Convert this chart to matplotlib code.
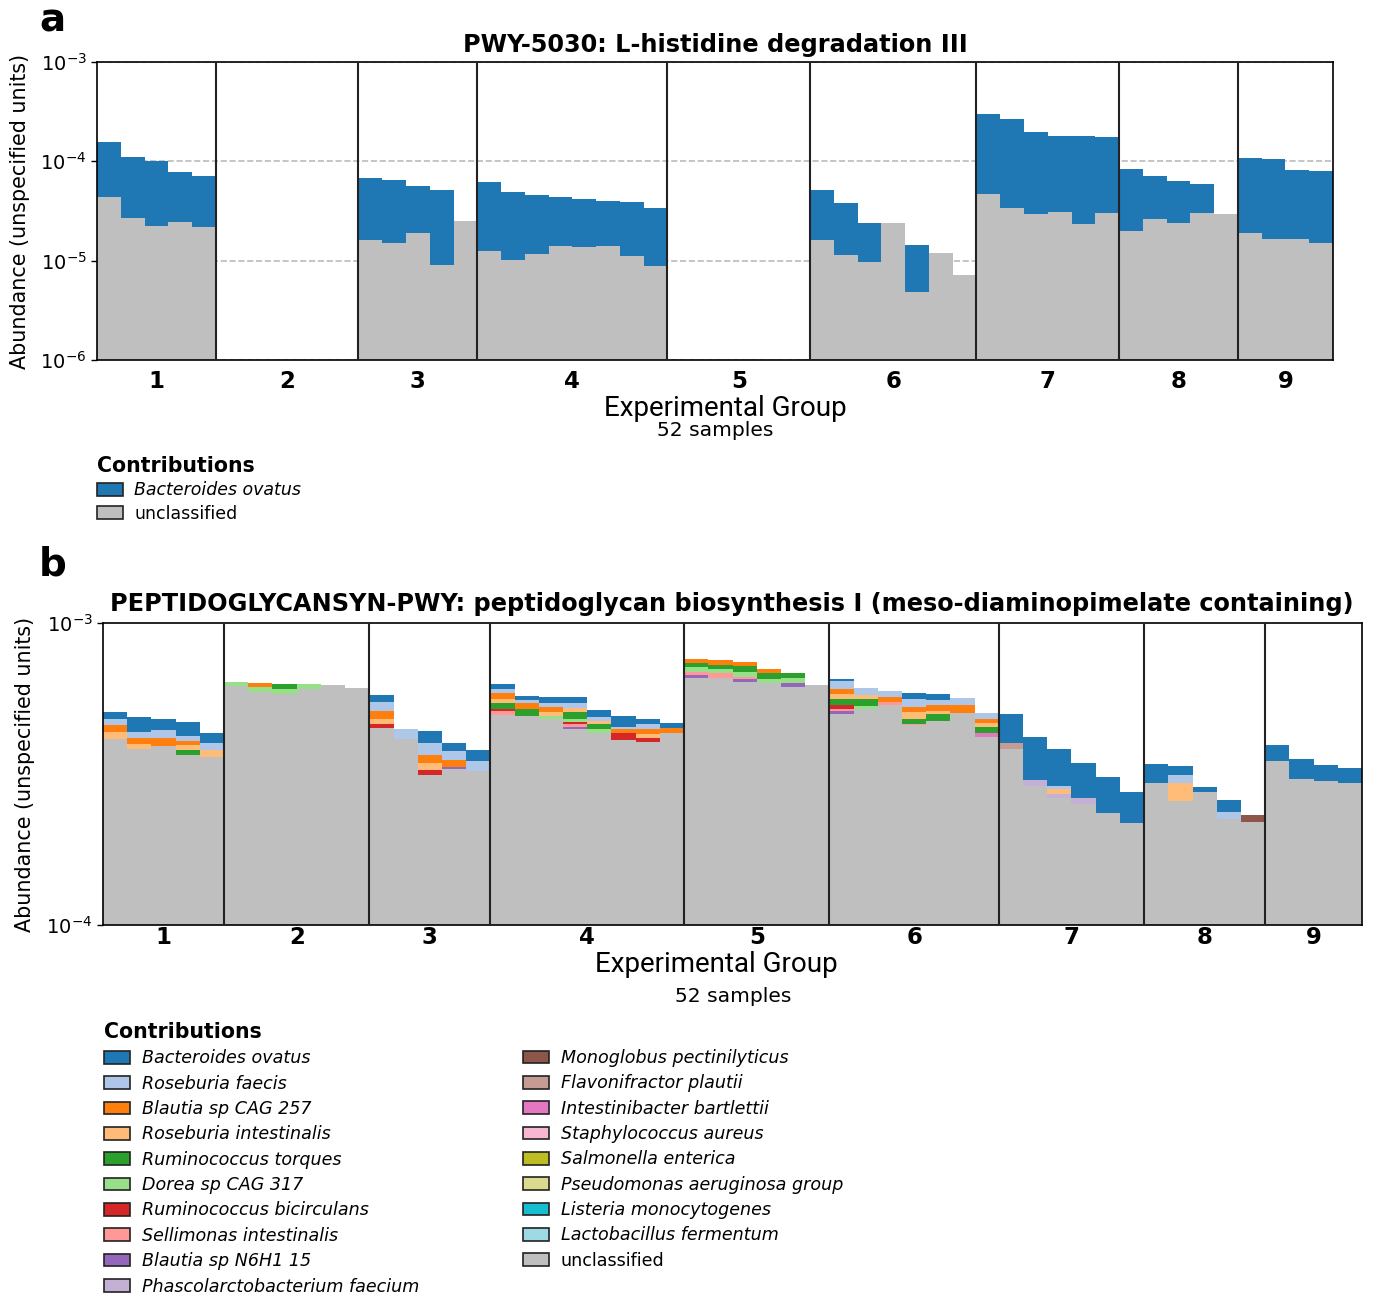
import matplotlib
matplotlib.use('Agg')
import matplotlib.pyplot as plt
from matplotlib.patches import Patch
from matplotlib.ticker import NullLocator

# ---------------------------------------------------------------------------
# Data
# ---------------------------------------------------------------------------
group_labels = ['1', '2', '3', '4', '5', '6', '7', '8', '9']
group_sizes = [5, 6, 5, 8, 6, 7, 6, 5, 4]   # 52 samples

# panel a: PWY-5030, total abundance and unclassified part per sample
title_a = 'PWY-5030: L-histidine degradation III'
total_a = [1.58e-4, 1.115e-4, 1.01e-4, 7.86e-5, 7.10e-5,
           0, 0, 0, 0, 0, 0,
           6.78e-5, 6.52e-5, 5.71e-5, 5.12e-5, 2.51e-5,
           6.13e-5, 4.93e-5, 4.56e-5, 4.42e-5, 4.15e-5, 4.02e-5, 3.93e-5, 3.37e-5,
           0, 0, 0, 0, 0, 0,
           5.16e-5, 3.81e-5, 2.41e-5, 2.37e-5, 1.45e-5, 1.20e-5, 7.16e-6,
           2.97e-4, 2.64e-4, 1.98e-4, 1.79e-4, 1.79e-4, 1.76e-4,
           8.43e-5, 7.05e-5, 6.32e-5, 5.94e-5, 2.92e-5,
           1.08e-4, 1.056e-4, 8.17e-5, 7.98e-5]
unclassified_a = [4.39e-5, 2.67e-5, 2.23e-5, 2.45e-5, 2.16e-5,
                  0, 0, 0, 0, 0, 0,
                  1.63e-5, 1.49e-5, 1.91e-5, 8.98e-6, 2.51e-5,
                  1.24e-5, 1.02e-5, 1.18e-5, 1.39e-5, 1.375e-5, 1.42e-5, 1.12e-5, 8.83e-6,
                  0, 0, 0, 0, 0, 0,
                  1.63e-5, 1.15e-5, 9.62e-6, 2.37e-5, 4.81e-6, 1.20e-5, 7.16e-6,
                  4.74e-5, 3.36e-5, 2.97e-5, 3.07e-5, 2.35e-5, 3.04e-5,
                  2.01e-5, 2.62e-5, 2.39e-5, 3.02e-5, 2.92e-5,
                  1.91e-5, 1.645e-5, 1.67e-5, 1.52e-5]

# panel b: PEPTIDOGLYCANSYN-PWY
title_b = ('PEPTIDOGLYCANSYN-PWY: peptidoglycan biosynthesis I '
           '(meso-diaminopimelate containing)')
species_keys = ['BO', 'RF', 'BC', 'RI', 'RT', 'DO', 'RB', 'SI', 'BN', 'PF',
                'MP', 'FP', 'IB', 'SA', 'SE', 'PA', 'LM', 'LF']
species_names = ['Bacteroides ovatus', 'Roseburia faecis', 'Blautia sp CAG 257',
                 'Roseburia intestinalis', 'Ruminococcus torques', 'Dorea sp CAG 317',
                 'Ruminococcus bicirculans', 'Sellimonas intestinalis',
                 'Blautia sp N6H1 15', 'Phascolarctobacterium faecium',
                 'Monoglobus pectinilyticus', 'Flavonifractor plautii',
                 'Intestinibacter bartlettii', 'Staphylococcus aureus',
                 'Salmonella enterica', 'Pseudomonas aeruginosa group',
                 'Listeria monocytogenes', 'Lactobacillus fermentum']
species_colors = ['#1f77b4', '#aec7e8', '#ff7f0e', '#ffbb78', '#2ca02c', '#98df8a',
                  '#d62728', '#ff9896', '#9467bd', '#c5b0d5', '#8c564b', '#c49c94',
                  '#e377c2', '#f7b6d2', '#bcbd22', '#dbdb8d', '#17becf', '#9edae5']
unclassified_color = '#bfbfbf'

unclassified_b = [4.12e-4, 3.83e-4, 3.92e-4, 3.66e-4, 3.59e-4,
                  6.19e-4, 5.89e-4, 5.80e-4, 6.06e-4, 6.25e-4, 6.08e-4,
                  4.48e-4, 4.12e-4, 3.13e-4, 3.29e-4, 3.24e-4,
                  4.95e-4, 4.93e-4, 4.80e-4, 4.44e-4, 4.31e-4, 4.10e-4, 4.05e-4, 4.31e-4,
                  6.56e-4, 6.59e-4, 6.36e-4, 6.31e-4, 6.16e-4, 6.25e-4,
                  5.01e-4, 5.18e-4, 5.35e-4, 4.58e-4, 4.75e-4, 5.02e-4, 4.20e-4,
                  3.84e-4, 2.89e-4, 2.63e-4, 2.52e-4, 2.34e-4, 2.17e-4,
                  2.96e-4, 2.57e-4, 2.76e-4, 2.25e-4, 2.20e-4,
                  3.50e-4, 3.04e-4, 3.00e-4, 2.95e-4]

# stacked abundance reached by each species above unclassified (bottom -> top)
stack_tops_b = [
    # group 1
    [('RI', 4.36e-4), ('BC', 4.58e-4), ('RF', 4.80e-4), ('BO', 5.06e-4)],
    [('RI', 3.98e-4), ('BC', 4.16e-4), ('RF', 4.34e-4), ('BO', 4.90e-4)],
    [('BC', 4.15e-4), ('RF', 4.42e-4), ('BO', 4.80e-4)],
    [('RT', 3.80e-4), ('RI', 3.94e-4), ('BC', 4.06e-4), ('RF', 4.24e-4), ('BO', 4.69e-4)],
    [('RI', 3.80e-4), ('RF', 4.00e-4), ('BO', 4.32e-4)],
    # group 2
    [('DO', 6.39e-4)],
    [('DO', 6.16e-4), ('BC', 6.31e-4)],
    [('DO', 6.05e-4), ('RT', 6.28e-4)],
    [('DO', 6.30e-4)],
    [],
    [],
    # group 3
    [('RB', 4.64e-4), ('RI', 4.82e-4), ('BC', 5.11e-4), ('RF', 5.46e-4), ('BO', 5.77e-4)],
    [('RF', 4.44e-4)],
    [('RB', 3.26e-4), ('RI', 3.45e-4), ('BC', 3.65e-4), ('RF', 4.00e-4), ('BO', 4.38e-4)],
    [('BN', 3.34e-4), ('BC', 3.52e-4), ('RF', 3.77e-4), ('BO', 4.00e-4)],
    [('RF', 3.49e-4), ('BO', 3.81e-4)],
    # group 4
    [('SI', 5.11e-4), ('RB', 5.20e-4), ('RT', 5.42e-4), ('RI', 5.60e-4), ('BC', 5.87e-4),
     ('RF', 6.05e-4), ('BO', 6.27e-4)],
    [('RT', 5.19e-4), ('BC', 5.42e-4), ('RF', 5.56e-4), ('BO', 5.74e-4)],
    [('DO', 4.93e-4), ('RI', 5.09e-4), ('BC', 5.28e-4), ('RF', 5.45e-4), ('BO', 5.70e-4)],
    [('BN', 4.54e-4), ('SI', 4.62e-4), ('RB', 4.70e-4), ('DO', 4.82e-4), ('RT', 5.07e-4),
     ('RI', 5.25e-4), ('RF', 5.42e-4), ('BO', 5.67e-4)],
    [('DO', 4.46e-4), ('RT', 4.62e-4), ('RI', 4.75e-4), ('RF', 4.90e-4), ('BO', 5.15e-4)],
    [('RB', 4.31e-4), ('BC', 4.45e-4), ('RF', 4.54e-4), ('BO', 4.92e-4)],
    [('RB', 4.15e-4), ('RI', 4.29e-4), ('BC', 4.45e-4), ('RF', 4.63e-4), ('BO', 4.81e-4)],
    [('BC', 4.50e-4), ('BO', 4.65e-4)],
    # group 5
    [('BN', 6.73e-4), ('SI', 6.86e-4), ('DO', 7.13e-4), ('RT', 7.39e-4), ('BC', 7.60e-4)],
    [('SI', 6.81e-4), ('DO', 7.02e-4), ('RT', 7.28e-4), ('BC', 7.52e-4)],
    [('BN', 6.51e-4), ('SI', 6.64e-4), ('DO', 6.86e-4), ('RT', 7.20e-4), ('BC', 7.45e-4)],
    [('DO', 6.51e-4), ('RT', 6.81e-4), ('BC', 7.04e-4)],
    [('BN', 6.31e-4), ('DO', 6.56e-4), ('RT', 6.81e-4)],
    [],
    # group 6
    [('BN', 5.11e-4), ('SI', 5.20e-4), ('RB', 5.34e-4), ('RT', 5.60e-4), ('RI', 5.80e-4),
     ('BC', 6.05e-4), ('RF', 6.41e-4), ('BO', 6.53e-4)],
    [('DO', 5.32e-4), ('RT', 5.59e-4), ('RI', 5.76e-4), ('RF', 6.09e-4)],
    [('SI', 5.49e-4), ('BC', 5.70e-4), ('RF', 5.97e-4)],
    [('SI', 4.64e-4), ('RT', 4.82e-4), ('RI', 5.06e-4), ('BC', 5.27e-4), ('RF', 5.60e-4),
     ('BO', 5.85e-4)],
    [('RT', 4.99e-4), ('RI', 5.13e-4), ('BC', 5.34e-4), ('RF', 5.56e-4), ('BO', 5.82e-4)],
    [('BC', 5.35e-4), ('RF', 5.63e-4)],
    [('IB', 4.31e-4), ('RT', 4.51e-4), ('RI', 4.65e-4), ('BC', 4.82e-4), ('RF', 5.05e-4)],
    # group 7
    [('FP', 4.00e-4), ('BO', 4.99e-4)],
    [('PF', 3.03e-4), ('BO', 4.18e-4)],
    [('PF', 2.72e-4), ('RI', 2.82e-4), ('RF', 2.89e-4), ('BO', 3.83e-4)],
    [('PF', 2.63e-4), ('BO', 3.43e-4)],
    [('BO', 3.08e-4)],
    [('BO', 2.76e-4)],
    # group 8
    [('BO', 3.40e-4)],
    [('RI', 2.95e-4), ('RF', 3.15e-4), ('BO', 3.36e-4)],
    [('BO', 2.87e-4)],
    [('RF', 2.37e-4), ('BO', 2.60e-4)],
    [('MP', 2.31e-4)],
    # group 9
    [('BO', 3.94e-4)],
    [('BO', 3.55e-4)],
    [('BO', 3.38e-4)],
    [('BO', 3.30e-4)],
]

# ---------------------------------------------------------------------------
# Helpers
# ---------------------------------------------------------------------------
color_of = dict(zip(species_keys, species_colors))
n_samples = sum(group_sizes)
xs = [i + 0.5 for i in range(n_samples)]

bounds = []
acc = 0
for g in group_sizes:
    bounds.append(acc)
    acc += g
centers = [b + g / 2 for b, g in zip(bounds, group_sizes)]


def style_axes(ax, ylim, yticks, xpad):
    ax.set_yscale('log')
    ax.set_xlim(0, n_samples)
    ax.set_ylim(*ylim)
    ax.set_yticks(yticks)
    ax.yaxis.set_minor_locator(NullLocator())
    ax.set_xticks(centers)
    ax.set_xticklabels(group_labels, fontsize=16.5, fontweight='bold')
    ax.tick_params(axis='x', length=0, pad=xpad)
    ax.tick_params(axis='y', labelsize=14, length=4, width=1)
    for sp in ax.spines.values():
        sp.set_linewidth(1.2)
    # separators between the experimental groups
    for b in bounds[1:]:
        ax.axvline(b, color='#222222', lw=1.5, zorder=5)


fig = plt.figure(figsize=(13.8, 12.93), dpi=100)
W, H = 1380.0, 1293.0

# ---------------------------------------------------------------------------
# Panel a
# ---------------------------------------------------------------------------
ax_a = fig.add_axes([97 / W, 1 - 360 / H, 1236 / W, 298 / H])
ax_a.set_axisbelow(True)
ax_a.yaxis.grid(True, which='major', ls='--', color='#bbbbbb', lw=1.2)

for x, tot, unc in zip(xs, total_a, unclassified_a):
    if unc > 0:
        ax_a.bar(x, unc, width=1, color=unclassified_color, lw=0)
    if tot > unc:
        ax_a.bar(x, tot - unc, bottom=unc, width=1, color=species_colors[0], lw=0)

style_axes(ax_a, (1e-6, 1e-3), [1e-6, 1e-5, 1e-4, 1e-3], xpad=7)

fig.text(715 / W, 1 - 45 / H, title_a, ha='center', va='center',
         fontsize=17.3, fontweight='bold')
fig.text(725 / W, 1 - 408 / H, 'Experimental Group', ha='center', va='center',
         fontsize=20, family='Roboto')
fig.text(715 / W, 1 - 431 / H, '52 samples', ha='center', va='center', fontsize=14.6)
fig.text(20 / W, 1 - 211 / H, 'Abundance (unspecified units)', rotation=90,
         ha='center', va='center', fontsize=14.9)
fig.text(52 / W, 1 - 20 / H, 'a', ha='center', va='center', fontsize=28,
         fontweight='bold')

handles_a = [Patch(facecolor=species_colors[0], edgecolor='#222222', lw=1.2),
             Patch(facecolor=unclassified_color, edgecolor='#222222', lw=1.2)]
leg_a = fig.legend(handles_a, ['Bacteroides ovatus', 'unclassified'],
                   loc='upper left', bbox_to_anchor=(97 / W, 1 - 456 / H),
                   frameon=False, title='Contributions', alignment='left',
                   fontsize=12.5, title_fontproperties={'weight': 'bold', 'size': 14.8},
                   borderpad=0, borderaxespad=0, handlelength=1.5, handleheight=0.74,
                   handletextpad=0.65, labelspacing=0.31)
for t in leg_a.get_texts()[:1]:
    t.set_fontstyle('italic')

# ---------------------------------------------------------------------------
# Panel b
# ---------------------------------------------------------------------------
ax_b = fig.add_axes([103 / W, 1 - 925 / H, 1259 / W, 302 / H])
ax_b.bar(xs, unclassified_b, width=1, color=unclassified_color, lw=0)
for x, unc, tops in zip(xs, unclassified_b, stack_tops_b):
    prev = unc
    for key, top in tops:
        ax_b.bar(x, top - prev, bottom=prev, width=1, color=color_of[key], lw=0)
        prev = top

style_axes(ax_b, (1e-4, 1e-3), [1e-4, 1e-3], xpad=1)

fig.text(732 / W, 1 - 604 / H, title_b, ha='center', va='center',
         fontsize=17.3, fontweight='bold')
fig.text(716 / W, 1 - 965 / H, 'Experimental Group', ha='center', va='center',
         fontsize=20, family='Roboto')
fig.text(733 / W, 1 - 996 / H, '52 samples', ha='center', va='center', fontsize=14.6)
fig.text(25 / W, 1 - 774 / H, 'Abundance (unspecified units)', rotation=90,
         ha='center', va='center', fontsize=14.9)
fig.text(53 / W, 1 - 565 / H, 'b', ha='center', va='center', fontsize=28,
         fontweight='bold')

all_names = species_names + ['unclassified']
all_colors = species_colors + [unclassified_color]
patches_b = [Patch(facecolor=c, edgecolor='#222222', lw=1.2) for c in all_colors]

leg_kw = dict(loc='upper left', frameon=False, fontsize=12.6, borderpad=0,
              borderaxespad=0, handlelength=1.49, handleheight=0.74,
              handletextpad=0.68, labelspacing=0.42)
leg_b1 = fig.legend(patches_b[:10], all_names[:10], bbox_to_anchor=(104 / W, 1 - 1022 / H),
                    title='Contributions', alignment='left',
                    title_fontproperties={'weight': 'bold', 'size': 14.8}, **leg_kw)
leg_b2 = fig.legend(patches_b[10:], all_names[10:], bbox_to_anchor=(523 / W, 1 - 1049 / H),
                    **leg_kw)
for t in leg_b1.get_texts():
    t.set_fontstyle('italic')
for t in leg_b2.get_texts()[:-1]:
    t.set_fontstyle('italic')

plt.savefig('out.png', dpi=100)
plt.close()
